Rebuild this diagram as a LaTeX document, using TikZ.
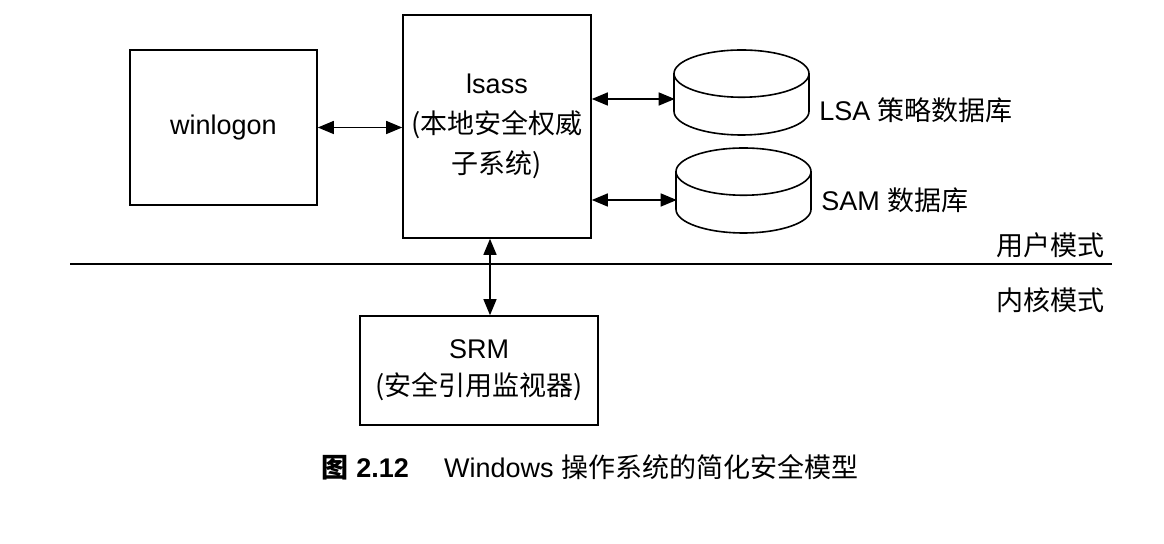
\documentclass[tikz,border=0pt]{standalone}
\usepackage{fontspec}
\setmainfont{Liberation Sans}
\newfontfamily\zhfont{Noto Sans CJK SC}
\newcommand{\zh}[1]{{\zhfont #1}}
\usetikzlibrary{shapes.geometric, arrows.meta, positioning}

\begin{document}
\begin{tikzpicture}[
    x=0.5pt, y=-0.5pt,
    font=\fontsize{13.5}{20}\selectfont,
    box/.style={rectangle, draw, line width=0.8pt, align=center, inner sep=0pt},
    store/.style={cylinder, draw, line width=0.8pt, shape border rotate=90, aspect=0.35, inner xsep=33.75pt, inner ysep=0pt, minimum height=42.5pt, anchor=shape center},
    biarrow/.style={{Triangle[length=8pt,width=6.5pt]}-{Triangle[length=8pt,width=6.5pt]}, line width=0.7pt},
    storelabel/.style={anchor=west, xshift=2pt},
    modetext/.style={anchor=east}
]
\useasboundingbox (0,0) rectangle (1164,544);

% --- NODES ---
\node (winlogon) [box, minimum width=93.5pt, minimum height=77.5pt] at (223.5,127.5) {winlogon};
\node (lsass) [box, minimum width=94pt, minimum height=111.5pt] at (497,126.5) {lsass\\\zh{(本地安全权威}\\\zh{子系统)}};
\node (lsa) [store] at (741.5,92.5) {};
\node (sam) [store] at (743.5,190.5) {};
\node (lsalabel) [storelabel] at (lsa.east |- 0,110) {LSA \zh{策略数据库}};
\node (samlabel) [storelabel] at (sam.east |- 0,200) {SAM \zh{数据库}};
\node (srm) [box, minimum width=119pt, minimum height=54.5pt, font=\fontsize{13.5}{18.5}\selectfont] at (479,370.5) {SRM\\\zh{(安全引用监视器)}};

% --- MODE DIVIDER ---
\coordinate (divL) at (70,264);
\coordinate (divR) at (1112,264);
\draw [line width=0.8pt] (divL) -- (divR);
\node (usermode) [modetext] at ([yshift=9.5pt]divR) {\zh{用户模式}};
\node (kernelmode) [modetext] at ([yshift=-18pt]divR) {\zh{内核模式}};

% --- CONNECTIONS ---
\draw [biarrow] (winlogon.east) -- (winlogon.east -| lsass.west);
\draw [biarrow] (lsass.east |- 0,99) -- (lsa.west |- 0,99);
\draw [biarrow] (lsass.east |- 0,200) -- (sam.west |- 0,200);
\draw [biarrow] ([xshift=-3.5pt]lsass.south) -- ([xshift=-3.5pt]lsass.south |- srm.north);

% --- CAPTION ---
\node (caption) at (590,467) {\zh{\bfseries 图} \textbf{2.12}\hspace{1.3em}Windows \zh{操作系统的简化安全模型}};

\end{tikzpicture}
\end{document}
